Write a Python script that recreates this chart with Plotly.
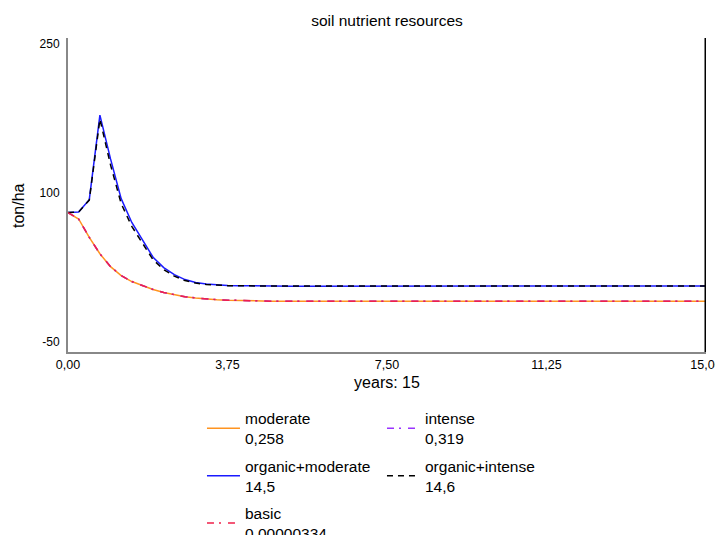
import plotly.graph_objects as go

years = [i * 0.25 for i in range(61)]

organic_moderate = [80, 80.5, 93, 178, 134, 94, 70, 52, 35, 24.5, 17.5, 12.5, 9.5, 8.0, 7.1, 6.6, 6.3, 6.1, 6.0, 5.9,
                    5.9, 5.9, 5.9, 5.9, 5.9, 5.9, 5.9, 5.9, 5.9, 5.9, 5.9, 5.9, 5.9, 5.9, 5.9, 5.9, 5.9, 5.9, 5.9, 5.9,
                    6.0, 6.0, 6.0, 6.0, 6.0, 6.0, 6.0, 6.0, 6.0, 6.0, 6.0, 6.0, 6.0, 6.0, 6.0, 6.0, 6.0, 6.0, 6.0, 6.0, 6.0]
organic_intense = [80, 80.5, 92.5, 174, 128, 89, 66, 49, 32.5, 22.5, 16, 11.5, 9.0, 7.6, 6.8, 6.4, 6.2, 6.1, 6.0, 6.0,
                   6.0, 6.0, 6.0, 6.0, 6.0, 6.0, 6.0, 6.0, 6.0, 6.0, 6.0, 6.0, 6.0, 6.0, 6.0, 6.0, 6.0, 6.0, 6.0, 6.0,
                   6.0, 6.0, 6.0, 6.0, 6.0, 6.0, 6.0, 6.0, 6.0, 6.0, 6.0, 6.0, 6.0, 6.0, 6.0, 6.0, 6.0, 6.0, 6.0, 6.0, 6.1]
moderate = [80, 73.5, 55, 38.5, 25.5, 16.5, 10.5, 6.2, 2.5, -0.5, -3.0, -4.8, -6.0, -7.0, -7.7, -8.2, -8.6, -8.9, -9.1, -9.2,
            -9.3, -9.3, -9.3, -9.4, -9.4, -9.4, -9.4, -9.4, -9.4, -9.4, -9.4, -9.4, -9.4, -9.4, -9.4, -9.4, -9.4, -9.4, -9.4, -9.4,
            -9.4, -9.4, -9.4, -9.4, -9.4, -9.4, -9.4, -9.4, -9.4, -9.4, -9.4, -9.4, -9.4, -9.4, -9.4, -9.4, -9.4, -9.4, -9.4, -9.4, -9.4]
intense = [80, 73.5, 55, 38.5, 25.5, 16.5, 10.5, 6.2, 2.5, -0.5, -3.0, -4.8, -6.0, -7.0, -7.7, -8.2, -8.6, -8.9, -9.1, -9.2,
           -9.3, -9.3, -9.3, -9.4, -9.4, -9.4, -9.4, -9.4, -9.4, -9.4, -9.4, -9.4, -9.4, -9.4, -9.4, -9.4, -9.4, -9.4, -9.4, -9.4,
           -9.4, -9.4, -9.4, -9.4, -9.4, -9.4, -9.4, -9.4, -9.4, -9.4, -9.4, -9.4, -9.4, -9.4, -9.4, -9.4, -9.4, -9.4, -9.4, -9.4, -9.4]
basic = [80, 73.5, 55, 38.5, 25.5, 16.5, 10.5, 6.2, 2.5, -0.5, -3.0, -4.8, -6.0, -7.0, -7.7, -8.2, -8.6, -8.9, -9.1, -9.2,
         -9.3, -9.3, -9.3, -9.4, -9.4, -9.4, -9.4, -9.4, -9.4, -9.4, -9.4, -9.4, -9.4, -9.4, -9.4, -9.4, -9.4, -9.4, -9.4, -9.4,
         -9.4, -9.4, -9.4, -9.4, -9.4, -9.4, -9.4, -9.4, -9.4, -9.4, -9.4, -9.4, -9.4, -9.4, -9.4, -9.4, -9.4, -9.4, -9.4, -9.4, -9.4]

legend_labels = {
    "moderate": "moderate<br>0,258",
    "intense": "intense<br>0,319",
    "organic+moderate": "organic+moderate<br>14,5",
    "organic+intense": "organic+intense<br>14,6",
    "basic": "basic<br>0,00000334",
}

y_ticks = [250, 100, -50]
y_ticktext = ["250", "100", "-50"]
x_ticks = [0, 3.75, 7.5, 11.25, 15]
x_ticktext = ["0,00", "3,75", "7,50", "11,25", "15,00"]

FIG_W = 715
FIG_H = 580

fig = go.Figure()
fig.add_trace(go.Scatter(x=years, y=moderate, mode="lines", name=legend_labels["moderate"],
                         line=dict(color="#ff9420", width=1.5), legend="legend"))
fig.add_trace(go.Scatter(x=years, y=intense, mode="lines", name=legend_labels["intense"],
                         line=dict(color="#9933ff", width=1.5, dash="7px,5px,2px,7px"), legend="legend"))
fig.add_trace(go.Scatter(x=years, y=organic_moderate, mode="lines", name=legend_labels["organic+moderate"],
                         line=dict(color="#1a1aff", width=1.5), legend="legend2"))
fig.add_trace(go.Scatter(x=years, y=organic_intense, mode="lines", name=legend_labels["organic+intense"],
                         line=dict(color="#000000", width=1.5, dash="6px,5px"), legend="legend2"))
fig.add_trace(go.Scatter(x=years, y=basic, mode="lines", name=legend_labels["basic"],
                         line=dict(color="#f0204a", width=1.5, dash="7px,5px,2px,7px"), legend="legend3"))

fig.add_shape(type="line", xref="x", yref="paper", x0=15, x1=15, y0=0, y1=1,
              line=dict(color="black", width=3))

fig.add_annotation(text="ton/ha", textangle=-90, xref="paper", yref="paper",
                   x=(10 - 60) / 638, y=(344 - 197) / 314, xanchor="center", yanchor="middle",
                   showarrow=False, font=dict(size=16))

leg_common = dict(orientation="h", x=0.210, xanchor="left", yanchor="top",
                  entrywidth=132, entrywidthmode="pixels", font=dict(size=15.5),
                  traceorder="normal", itemwidth=33, bgcolor="rgba(0,0,0,0)")

fig.update_layout(
    width=FIG_W, height=FIG_H,
    margin=dict(l=60, r=FIG_W - 698, t=30, b=FIG_H - 344),
    paper_bgcolor="white", plot_bgcolor="white",
    font=dict(family="Liberation Sans, Arial, sans-serif", color="#000000"),
    title=dict(text="soil nutrient resources", x=0.5, xref="paper", xanchor="center",
               y=1 - 13 / FIG_H, yref="container", yanchor="middle", font=dict(size=15.5)),
    xaxis=dict(range=[0, 15], tickvals=x_ticks, ticktext=x_ticktext, showgrid=False, zeroline=False,
               showline=True, linecolor="#888888", linewidth=2, ticks="", tickfont=dict(size=12.5),
               automargin=False, ticklabeloverflow="allow",
               title=dict(text="years: 15", font=dict(size=16), standoff=6)),
    yaxis=dict(range=[-60.4, 255.7], tickvals=y_ticks, ticktext=y_ticktext, showgrid=False, zeroline=False,
               showline=True, linecolor="#888888", linewidth=2, ticks="", tickfont=dict(size=12),
               ticklabelstandoff=4, automargin=False),
    legend=dict(leg_common, y=-0.158),
    legend2=dict(leg_common, y=-0.3093),
    legend3=dict(leg_common, y=-0.460),
    showlegend=True,
)

fig.write_html("out.html")
